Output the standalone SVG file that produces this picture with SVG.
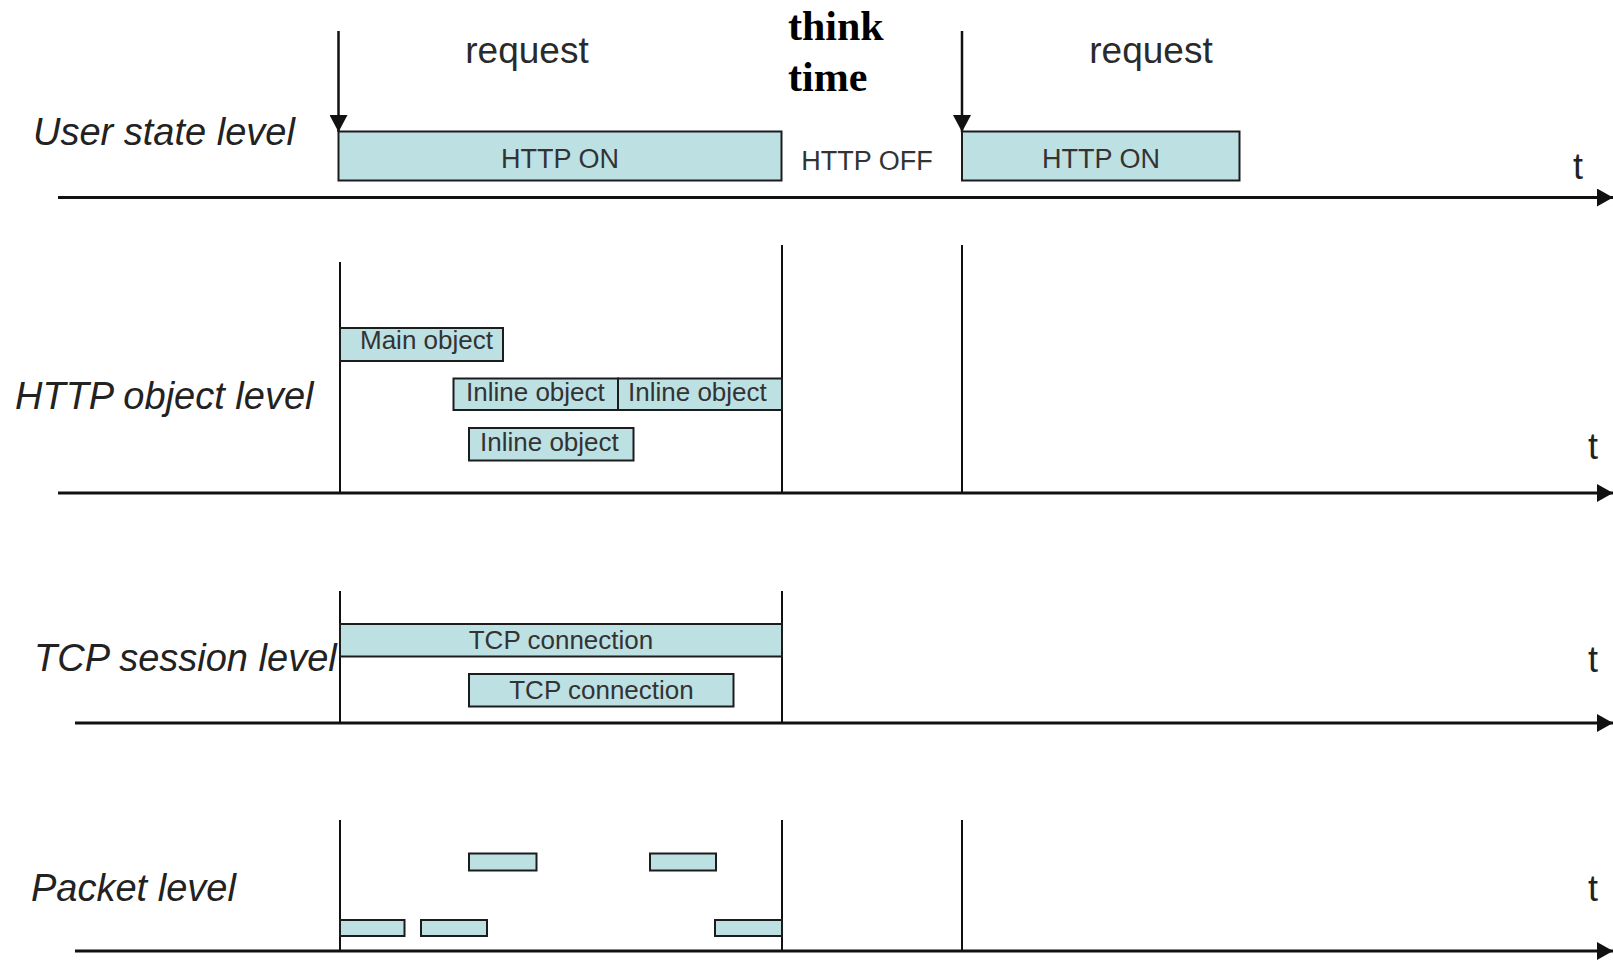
<svg xmlns="http://www.w3.org/2000/svg" width="1613" height="960" viewBox="0 0 1613 960">
  <style>
    .bar { fill: #bde0e3; stroke: #1c1c1c; stroke-width: 2; }
    .lvl { font-family: "Liberation Sans", Arial, sans-serif; font-style: italic; font-size: 38px; fill: #222; }
    .box { font-family: "Liberation Sans", Arial, sans-serif; font-size: 26px; fill: #333; }
    .st { font-family: "Liberation Sans", Arial, sans-serif; font-size: 27px; fill: #333; text-anchor: middle; }
    .req { font-family: "Liberation Sans", Arial, sans-serif; font-size: 37px; fill: #2a2a2a; text-anchor: middle; }
    .tm { font-family: "Liberation Sans", Arial, sans-serif; font-size: 36px; fill: #222; }
    .think { font-family: "Liberation Serif", "Times New Roman", serif; font-weight: bold; font-size: 42px; fill: #000; }
    .axis { stroke: #111; stroke-width: 3; fill: none; }
    .tick { stroke: #111; stroke-width: 2; fill: none; }
    .arr { stroke: #111; stroke-width: 2.5; fill: none; }
  </style>
  <defs>
    <marker id="axisHead" markerUnits="userSpaceOnUse" markerWidth="16" markerHeight="18" refX="16" refY="9" orient="auto">
      <path d="M0,0 L16,9 L0,18 z" fill="#111"/>
    </marker>
    <marker id="reqHead" markerUnits="userSpaceOnUse" markerWidth="17" markerHeight="18" refX="17" refY="9" orient="auto">
      <path d="M0,0 L17,9 L0,18 z" fill="#111"/>
    </marker>
  </defs>

  <rect width="1613" height="960" fill="#fff"/>

  <!-- time axes, period boundaries and request arrows -->
  <g id="connectors">
    <line class="axis" x1="58" y1="197.5" x2="1613" y2="197.5" marker-end="url(#axisHead)"/>
    <line class="axis" x1="58" y1="493" x2="1613" y2="493" marker-end="url(#axisHead)"/>
    <line class="axis" x1="75" y1="723" x2="1613" y2="723" marker-end="url(#axisHead)"/>
    <line class="axis" x1="75" y1="951" x2="1613" y2="951" marker-end="url(#axisHead)"/>

    <line class="arr" x1="338.5" y1="31" x2="338.5" y2="132" marker-end="url(#reqHead)"/>
    <line class="arr" x1="962" y1="31" x2="962" y2="132" marker-end="url(#reqHead)"/>

    <line class="tick" x1="340" y1="262" x2="340" y2="493"/>
    <line class="tick" x1="782" y1="245" x2="782" y2="493"/>
    <line class="tick" x1="962" y1="245" x2="962" y2="493"/>

    <line class="tick" x1="340" y1="591" x2="340" y2="723"/>
    <line class="tick" x1="782" y1="591" x2="782" y2="723"/>

    <line class="tick" x1="340" y1="820" x2="340" y2="951"/>
    <line class="tick" x1="782" y1="820" x2="782" y2="951"/>
    <line class="tick" x1="962" y1="820" x2="962" y2="951"/>
  </g>

  <!-- level labels -->
  <g id="label-user"><text class="lvl" x="33" y="145">User state level</text></g>
  <g id="label-http"><text class="lvl" x="15" y="409">HTTP object level</text></g>
  <g id="label-tcp"><text class="lvl" x="34" y="671">TCP session level</text></g>
  <g id="label-packet"><text class="lvl" x="31" y="901">Packet level</text></g>

  <!-- axis time labels -->
  <g id="t-labels">
    <text class="tm" x="1573" y="179">t</text>
    <text class="tm" x="1588" y="459">t</text>
    <text class="tm" x="1588" y="672">t</text>
    <text class="tm" x="1588" y="901">t</text>
  </g>

  <!-- user state level -->
  <g id="request-1"><text class="req" x="527" y="63">request</text></g>
  <g id="request-2"><text class="req" x="1151" y="63">request</text></g>
  <g id="think-time">
    <text class="think" x="788" y="40">think</text>
    <text class="think" x="788" y="91">time</text>
  </g>
  <g id="http-on-1">
    <rect class="bar" x="338.5" y="131.5" width="443" height="49"/>
    <text class="st" x="560" y="168">HTTP ON</text>
  </g>
  <g id="http-off"><text class="st" x="867" y="170">HTTP OFF</text></g>
  <g id="http-on-2">
    <rect class="bar" x="962" y="131.5" width="277.5" height="49"/>
    <text class="st" x="1101" y="168">HTTP ON</text>
  </g>

  <!-- HTTP object level -->
  <g id="main-object">
    <rect class="bar" x="340" y="328" width="163" height="33"/>
    <text class="box" x="360" y="349">Main object</text>
  </g>
  <g id="inline-object-1">
    <rect class="bar" x="453.5" y="378.5" width="164.5" height="31.5"/>
    <text class="box" x="466" y="401">Inline object</text>
  </g>
  <g id="inline-object-2">
    <rect class="bar" x="618" y="378.5" width="164" height="31.5"/>
    <text class="box" x="628" y="401">Inline object</text>
  </g>
  <g id="inline-object-3">
    <rect class="bar" x="469" y="428" width="164.5" height="32.5"/>
    <text class="box" x="480" y="451">Inline object</text>
  </g>

  <!-- TCP session level -->
  <g id="tcp-connection-1">
    <rect class="bar" x="340" y="624" width="442" height="32.5"/>
    <text class="box" x="561" y="649" text-anchor="middle">TCP connection</text>
  </g>
  <g id="tcp-connection-2">
    <rect class="bar" x="469" y="674" width="264.5" height="32.5"/>
    <text class="box" x="601.5" y="699" text-anchor="middle">TCP connection</text>
  </g>

  <!-- packet level -->
  <g id="packets">
    <rect class="bar" x="469" y="853.5" width="67.5" height="17"/>
    <rect class="bar" x="650" y="853.5" width="66" height="17"/>
    <rect class="bar" x="340" y="920" width="64.5" height="16"/>
    <rect class="bar" x="421" y="920" width="66" height="16"/>
    <rect class="bar" x="715" y="920" width="67" height="16"/>
  </g>
</svg>
